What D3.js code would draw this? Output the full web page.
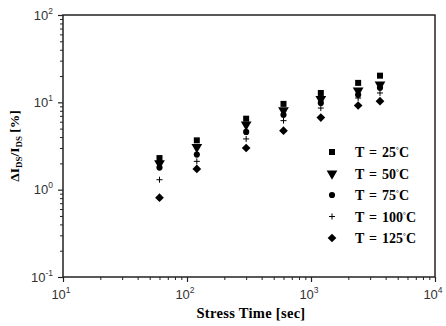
<!DOCTYPE html>
<html>
<head>
<meta charset="utf-8">
<script src="https://cdn.jsdelivr.net/npm/d3@7"></script>
<style>
  body { margin: 0; background: #fff; }
  svg { display: block; }
</style>
</head>
<body>
<svg id="chart" width="446" height="326"></svg>
<script>
// stress time in seconds
const times = [60, 120, 300, 600, 1200, 2400, 3600];
const seriesNames = ['T = 25', 'T = 50', 'T = 75', 'T = 100', 'T = 125'];
const t25 = [2.3, 3.67, 6.5, 9.6, 12.8, 16.7, 20.2];
const t50 = [2.0, 3.08, 5.55, 8.1, 10.9, 13.6, 16.0];
const t75 = [1.79, 2.52, 4.58, 7.2, 9.84, 12.2, 14.7];
const t100 = [1.3, 2.11, 3.81, 6.17, 8.6, 11.2, 12.8];
const t125 = [0.81, 1.73, 3.0, 4.74, 6.7, 9.2, 10.3];
const xTicks = [1, 2, 3, 4];   // exponents
const yTicks = [-1, 0, 1, 2];

const allSeries = [t25, t50, t75, t100, t125];

const svg = d3.select('#chart');
const plotL = 63, plotR = 435, plotT = 15, plotB = 277;

const x = d3.scaleLog().domain([10, 10000]).range([plotL, plotR]);
const y = d3.scaleLog().domain([0.1, 100]).range([plotB, plotT]);

// frame
svg.append('rect')
    .attr('x', plotL).attr('y', plotT)
    .attr('width', plotR - plotL).attr('height', plotB - plotT)
    .attr('fill', 'none')
    .attr('stroke', '#222')
    .attr('stroke-width', 1.5);

// minor tick values
function minors(lo, hi) {
    const out = [];
    for (let e = lo; e < hi; e++) {
        for (let k = 2; k <= 9; k++) out.push(k * Math.pow(10, e));
    }
    return out;
}

// x axis
const xAxis = d3.axisBottom(x)
    .tickValues(xTicks.map(e => Math.pow(10, e)))
    .tickSize(5)
    .tickFormat('');
const gx = svg.append('g')
    .attr('transform', 'translate(0,' + plotB + ')')
    .call(xAxis);
gx.select('.domain').remove();
gx.selectAll('line').attr('stroke', '#222').attr('stroke-width', 1.2);
svg.append('g')
    .attr('transform', 'translate(0,' + plotB + ')')
    .call(d3.axisBottom(x).tickValues(minors(1, 4)).tickSize(3).tickFormat(''))
    .call(g => g.select('.domain').remove())
    .selectAll('line').attr('stroke', '#222');

// y axis
const yAxis = d3.axisLeft(y)
    .tickValues(yTicks.map(e => Math.pow(10, e)))
    .tickSize(5)
    .tickFormat('');
const gy = svg.append('g')
    .attr('transform', 'translate(' + plotL + ',0)')
    .call(yAxis);
gy.select('.domain').remove();
gy.selectAll('line').attr('stroke', '#222').attr('stroke-width', 1.2);
svg.append('g')
    .attr('transform', 'translate(' + plotL + ',0)')
    .call(d3.axisLeft(y).tickValues(minors(-1, 2)).tickSize(3).tickFormat(''))
    .call(g => g.select('.domain').remove())
    .selectAll('line').attr('stroke', '#222');

// tick labels 10^n
const labelFont = 'Arial, "Liberation Sans", sans-serif';
xTicks.forEach(function (e) {
    const t = svg.append('text')
        .attr('x', x(Math.pow(10, e)) - 2)
        .attr('y', plotB + 22)
        .attr('text-anchor', 'middle')
        .attr('font-family', labelFont)
        .attr('font-size', 13)
        .attr('fill', '#333');
    t.append('tspan').text('10');
    t.append('tspan').attr('dy', -6).attr('font-size', 8.5).text(e);
});
yTicks.forEach(function (e) {
    const t = svg.append('text')
        .attr('x', plotL - 10)
        .attr('y', y(Math.pow(10, e)) + 4.5)
        .attr('text-anchor', 'end')
        .attr('font-family', labelFont)
        .attr('font-size', 13)
        .attr('fill', '#333');
    t.append('tspan').text('10');
    t.append('tspan').attr('dy', -6).attr('font-size', 8.5).text(e);
});

// axis titles
const titleFont = '"Times New Roman", "Liberation Serif", serif';
svg.append('text')
    .attr('x', 251)
    .attr('y', 318)
    .attr('text-anchor', 'middle')
    .attr('font-family', titleFont)
    .attr('font-weight', 'bold')
    .attr('font-size', 14.5)
    .attr('letter-spacing', 0.3)
    .text('Stress Time [sec]');

const yt = svg.append('text')
    .attr('transform', 'translate(19,146) rotate(-90)')
    .attr('text-anchor', 'middle')
    .attr('font-family', titleFont)
    .attr('font-weight', 'bold')
    .attr('font-size', 13.5);
yt.append('tspan').text('ΔI');
yt.append('tspan').attr('dy', 3).attr('font-size', 9).text('DS');
yt.append('tspan').attr('dy', -3).text('/I');
yt.append('tspan').attr('dy', 3).attr('font-size', 9).text('DS');
yt.append('tspan').attr('dy', -3).text(' [%]');

// marker shapes
const square = d3.symbol().type(d3.symbolSquare).size(36)();
const triangle = d3.symbol().type(d3.symbolTriangle).size(50)();
const circle = d3.symbol().type(d3.symbolCircle).size(30)();
const diamond = d3.symbol().type(d3.symbolSquare).size(38)();
const plus = 'M-3,0H3M0,-3V3';
const shapes = [
    { d: square, rot: 0, fill: '#000', stroke: 'none' },
    { d: triangle, rot: 180, fill: '#000', stroke: 'none' },
    { d: circle, rot: 0, fill: '#000', stroke: 'none' },
    { d: plus, rot: 0, fill: 'none', stroke: '#000' },
    { d: diamond, rot: 45, fill: '#000', stroke: 'none' }
];

allSeries.forEach(function (vals, i) {
    const s = shapes[i];
    svg.append('g').selectAll('path')
        .data(vals)
        .enter()
        .append('path')
        .attr('d', s.d)
        .attr('transform', function (d, j) {
            return 'translate(' + x(times[j]) + ',' + y(d) + ') rotate(' + s.rot + ')';
        })
        .attr('fill', s.fill)
        .attr('stroke', s.stroke)
        .attr('stroke-width', 1);
});

// legend
const legend = svg.append('g').attr('transform', 'translate(332,152)');
seriesNames.forEach(function (name, i) {
    const s = shapes[i];
    const row = legend.append('g').attr('transform', 'translate(0,' + (i * 21.5) + ')');
    row.append('path')
        .attr('d', s.d)
        .attr('transform', 'rotate(' + s.rot + ')')
        .attr('fill', s.fill)
        .attr('stroke', s.stroke);
    const t = row.append('text')
        .attr('x', 23)
        .attr('y', 5)
        .attr('font-family', titleFont)
        .attr('font-weight', 'bold')
        .attr('font-size', 14)
        .attr('word-spacing', 1.5);
    t.append('tspan').text(name);
    t.append('tspan').attr('dy', -5).attr('font-size', 7).text('°');
    t.append('tspan').attr('dy', 5).text('C');
});
</script>
</body>
</html>
